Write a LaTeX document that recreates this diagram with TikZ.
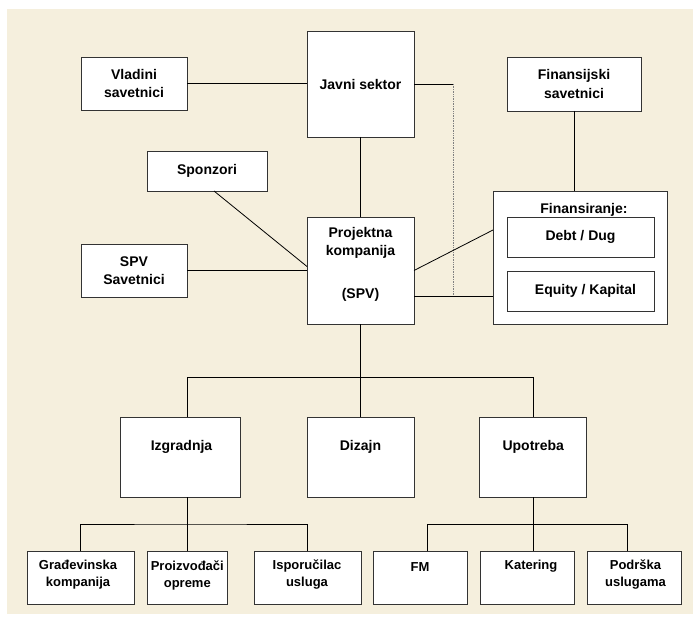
\documentclass[tikz,border=0pt]{standalone}
\usepackage{fontspec}
\setmainfont{Liberation Sans}
\definecolor{bgcream}{HTML}{F5EFDD}
\definecolor{boxline}{HTML}{333333}
\newcommand\lblfont{\fontsize{14bp}{18.5bp}\selectfont\bfseries}
\newcommand\smallfont{\fontsize{13bp}{17bp}\selectfont\bfseries}
\tikzset{
  box/.style={draw=boxline, fill=white, line width=0.9bp, inner sep=0pt, outer sep=0pt},
  lbl/.style={font=\lblfont, align=center, inner sep=0pt},
  lblsm/.style={font=\smallfont, align=center, inner sep=0pt},
  link/.style={draw=black, line width=0.8bp},
  guide/.style={draw=gray, densely dotted, line width=0.7bp}
}
\begin{document}
\begin{tikzpicture}[x=1bp, y=-1bp]
\useasboundingbox (0,0) rectangle (693,618);
\fill[bgcream] (7,9) rectangle (693,614);

% ---- boxes ----
\node[box, minimum width=106bp, minimum height=53bp] (vlad) at (134,83.5) {};
\node[box, minimum width=107bp, minimum height=106bp] (javni) at (360.5,84) {};
\node[box, minimum width=134bp, minimum height=54bp] (fins) at (574,84) {};
\node[box, minimum width=120bp, minimum height=40bp] (spon) at (207,171) {};
\node[box, minimum width=106bp, minimum height=53bp] (spvs) at (134,270.5) {};
\node[box, minimum width=107bp, minimum height=107bp] (proj) at (360.5,270.5) {};
\node[box, minimum width=174bp, minimum height=133bp] (fin) at (580,257.5) {};
\node[box, minimum width=147bp, minimum height=40bp] (debt) at (580.5,237) {};
\node[box, minimum width=147bp, minimum height=40bp] (eq) at (580.5,291) {};

\node[box, minimum width=120bp, minimum height=80bp] (izg) at (180,457) {};
\node[box, minimum width=107bp, minimum height=80bp] (diz) at (360.5,457) {};
\node[box, minimum width=107bp, minimum height=80bp] (upo) at (533.3,457) {};

\node[box, minimum width=107bp, minimum height=53bp] (grad) at (80.5,577.5) {};
\node[box, minimum width=80bp, minimum height=53bp] (proi) at (187.3,577.5) {};
\node[box, minimum width=107bp, minimum height=53bp] (ispo) at (307.5,577.5) {};
\node[box, minimum width=94bp, minimum height=53bp] (fm) at (420,577.5) {};
\node[box, minimum width=94bp, minimum height=53bp] (kat) at (527,577.5) {};
\node[box, minimum width=94bp, minimum height=53bp] (pod) at (634,577.5) {};

% ---- labels ----
\node[lbl] (vladT) at (vlad) {Vladini\\savetnici};
\node[lbl] (javniT) at (javni) {Javni sektor};
\node[lbl] (finsT) at (fins) {Finansijski\\savetnici};
\node[lbl] (sponT) at (spon) {Sponzori};
\node[lbl] (spvsT) at (spvs) {SPV\\Savetnici};
\node[lbl] (projT) at (360.5,243) {Projektna\\kompanija};
\node[lbl] (projS) at (360.5,295) {(SPV)};
\node[lbl] (finT) at (584,210) {Finansiranje:};
\node[lbl] (debtT) at (debt) {Debt / Dug};
\node[lbl] (eqT) at (585.5,291) {Equity / Kapital};
\node[lbl] (izgT) at (181.5,447) {Izgradnja};
\node[lbl] (dizT) at (360.5,447) {Dizajn};
\node[lbl] (upoT) at (533.3,447) {Upotreba};
\node[lblsm] (gradT) at (78,575) {Građevinska\\kompanija};
\node[lblsm] (proiT) at (187.3,575) {Proizvođači\\opreme};
\node[lblsm] (ispoT) at (307,575) {Isporučilac\\usluga};
\node[lblsm] (fmT) at (420,567) {FM};
\node[lblsm] (katT) at (531,566) {Katering};
\node[lblsm] (podT) at (635.5,575) {Podrška\\uslugama};

% ---- connectors, upper part ----
\coordinate (tapTop) at (453.3,84);
\coordinate (tapBot) at (453.3,296.7);
\draw[link] (vlad.east) -- (vlad.east -| javni.west);
\draw[link] (javni.south) -- (proj.north);
\draw[link] (javni.east) -- (tapTop);
\draw[guide] (tapTop) -- (tapBot);
\draw[link] ([xshift=7bp]spon.south) -- ([yshift=4bp]proj.west);
\draw[link] (spvs.east) -- (spvs.east -| proj.west);
\draw[link] (fins.south) -- (fins.south |- fin.north);
\draw[link] (proj.east) -- ([yshift=27.5bp]fin.west);
\draw[link] ([yshift=-26.2bp]proj.east) -- ([yshift=-26.2bp]proj.east -| fin.west);

% ---- connectors, tree ----
\coordinate (busL) at (187.3,377.3);
\coordinate (busR) at (533.3,377.3);
\draw[link] (proj.south) -- (diz.north);
\draw[link] (izg.north -| busL) -- (busL) -- (busR) -- (upo.north);

\coordinate (izgHub) at (187.3,524);
\draw[link] (izg.south -| izgHub) -- (proi.north);
\draw[link] (grad.north) |- (izgHub) -| (ispo.north);

\coordinate (fmDrop) at (427.3,524);
\coordinate (podDrop) at (627.3,524);
\draw[link] (upo.south) -- (upo.south |- kat.north);
\draw[link] (fmDrop |- fm.north) -- (fmDrop) -- (podDrop) -- (podDrop |- pod.north);
\end{tikzpicture}
\end{document}
